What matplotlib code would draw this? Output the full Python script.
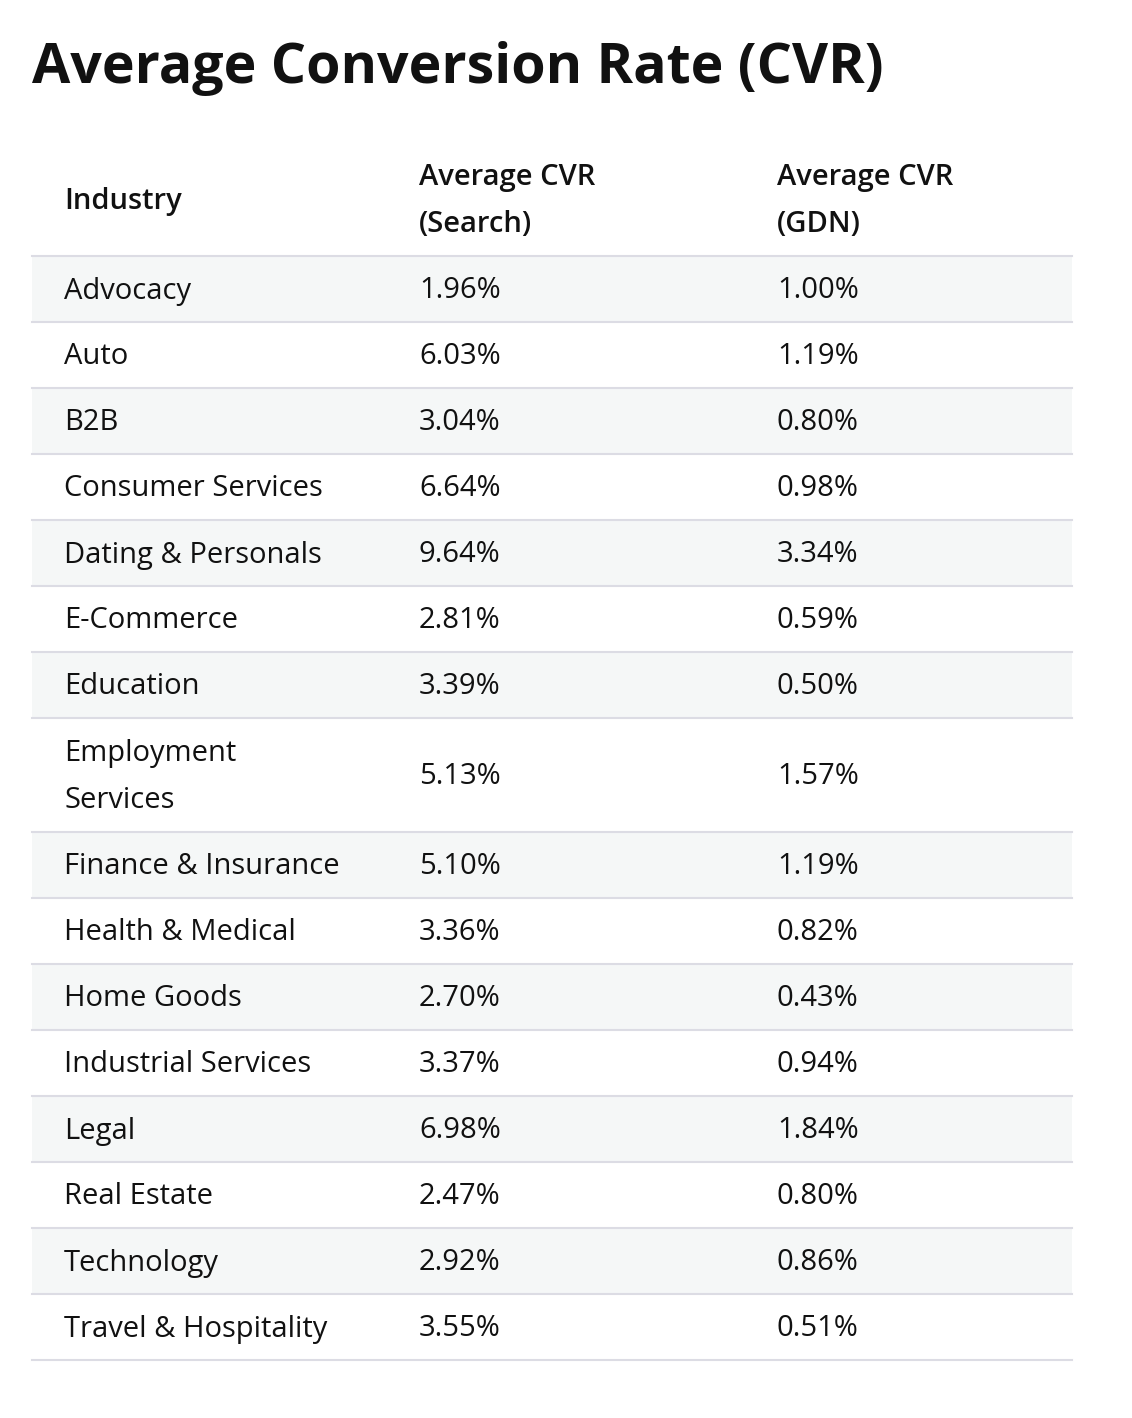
import matplotlib.pyplot as plt
from matplotlib.patches import Rectangle

plt.rcParams['font.family'] = ['Open Sans', 'DejaVu Sans']

TITLE = 'Average Conversion Rate (CVR)'
HEADERS = ['Industry', 'Average CVR\n(Search)', 'Average CVR\n(GDN)']
industries = ['Advocacy', 'Auto', 'B2B', 'Consumer Services', 'Dating & Personals',
              'E-Commerce', 'Education', 'Employment\nServices', 'Finance & Insurance',
              'Health & Medical', 'Home Goods', 'Industrial Services', 'Legal',
              'Real Estate', 'Technology', 'Travel & Hospitality']
cvr_search = [1.96, 6.03, 3.04, 6.64, 9.64, 2.81, 3.39, 5.13, 5.10, 3.36, 2.70,
              3.37, 6.98, 2.47, 2.92, 3.55]
cvr_gdn = [1.00, 1.19, 0.80, 0.98, 3.34, 0.59, 0.50, 1.57, 1.19, 0.82, 0.43,
           0.94, 1.84, 0.80, 0.86, 0.51]

W, H = 1132, 1418
fig = plt.figure(figsize=(W / 100, H / 100), dpi=100)
ax = fig.add_axes([0, 0, 1, 1])
ax.set_xlim(0, W)
ax.set_ylim(H, 0)
ax.axis('off')

left, right = 32, 1072
col_x = [64, 419, 777]
row_h = 66
line_h = 48
grid = '#dcdce4'
band = '#f5f7f7'
fs = 21
ink = '#111111'


def cell(x, mid, text, **kw):
    # stack lines by hand so the line pitch matches the reference
    lines = text.split('\n')
    top = mid - (len(lines) - 1) * line_h / 2
    for k, t in enumerate(lines):
        ax.text(x, top + k * line_h, t, fontsize=fs, va='center', ha='left',
                color=ink, **kw)


ax.text(32, 68, TITLE, fontsize=40, fontweight='bold', va='center', ha='left', color=ink)

# header
for x, h in zip(col_x, HEADERS):
    cell(x, 201, h, fontweight='semibold')

y = 256
ax.plot([left, right], [y, y], color=grid, lw=1.5)
for i, (name, s, g) in enumerate(zip(industries, cvr_search, cvr_gdn)):
    nlines = name.count('\n') + 1
    h = row_h + (nlines - 1) * line_h
    if i % 2 == 0:
        ax.add_patch(Rectangle((left, y), right - left, h, color=band, lw=0, zorder=0))
    mid = y + h / 2 + 2
    cell(col_x[0], mid, name)
    cell(col_x[1], mid, f'{s:.2f}%')
    cell(col_x[2], mid, f'{g:.2f}%')
    y += h
    ax.plot([left, right], [y, y], color=grid, lw=1.5)

fig.savefig('out.png', dpi=100, facecolor='white')
